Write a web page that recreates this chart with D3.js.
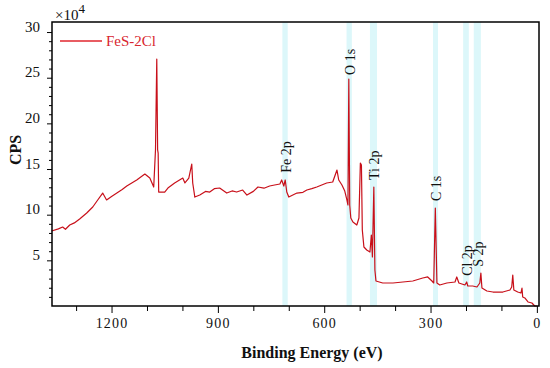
<!DOCTYPE html>
<html>
<head>
<meta charset="utf-8">
<script src="https://cdn.jsdelivr.net/npm/d3@7"></script>
<style>
  body { margin: 0; background: #fff; }
  text { font-family: "Liberation Serif", "DejaVu Serif", serif; }
</style>
</head>
<body>
<script>
// survey spectrum, binding energy (eV) vs CPS (x10^4)
var energy = [1369, 1350, 1338, 1330, 1318, 1305, 1290, 1270, 1253, 1239, 1225, 1214, 1200, 1185, 1170, 1157, 1129, 1106, 1092, 1081,
  1076, 1072.4, 1070, 1068.5, 1067, 1050, 1041, 1022, 999, 993, 982, 973.7, 971, 965, 951, 935, 923, 910, 895,
  875, 860, 847, 830, 818, 800, 787, 770, 754, 740, 725, 720, 714, 710, 705.6, 700, 677, 660, 649, 635, 621, 593, 576, 564, 559, 550,
  542, 536, 533, 530.6, 528, 525, 519, 508, 502, 498, 495, 492.5, 488, 480, 471, 467, 464, 460, 457,
  454, 435, 406, 378, 350, 322, 308, 296, 291, 286.5, 282, 274, 254, 231, 226, 220, 203, 198, 195,
  181, 169, 161, 158, 155, 141, 124, 96, 76, 71, 68, 65, 54, 45, 42, 40, 34, 25, 14, 6, 0];
var cps = [8.21, 8.45, 8.65, 8.40, 8.87, 9.10, 9.53, 10.18, 10.84, 11.61, 12.37, 11.61, 12.0, 12.37, 12.75, 13.14, 13.80, 14.45, 14.01, 13.03,
  17.1, 27.04, 17.1, 16.75, 12.48, 12.48, 12.92, 13.47, 14.01, 13.47, 14.01, 15.55, 13.47, 11.93, 12.15, 12.55, 12.48, 12.85, 12.92,
  12.37, 12.60, 12.48, 12.70, 12.15, 12.55, 13.03, 12.90, 13.14, 13.25, 13.36, 13.80, 13.14, 13.80, 12.48, 11.93, 12.37, 12.45, 12.70, 12.85, 13.03, 13.47, 13.58, 14.89, 13.80, 13.25,
  12.59, 11.61, 11.06, 24.85, 11.06, 9.64, 9.20, 8.87, 9.64, 15.66, 15.44, 8.32, 6.46, 6.13, 5.91, 7.77, 5.37, 13.03, 3.94,
  2.74, 2.52, 2.52, 2.63, 2.74, 3.07, 3.18, 2.74, 2.52, 10.73, 2.52, 2.30, 2.52, 2.63, 3.18, 2.52, 2.30, 2.63, 2.19,
  2.19, 2.08, 2.52, 3.61, 1.97, 1.64, 1.53, 1.53, 1.75, 2.08, 3.39, 1.75, 1.53, 1.42, 1.97, 0.99, 0.88, 0.44, 0.33, 0.0, 0.0];

// peak assignments and shaded energy windows
var peakNames = ["Fe 2p", "O 1s", "Ti 2p", "C 1s", "Cl 2p", "S 2p"];
var bandLo = [703, 522, 451, 279, 192, 158];
var bandHi = [718, 537, 471, 293, 208, 178];
var labelTop = [14.6, 25.3, 13.8, 11.5, 3.3, 4.3]; // cps level where the label starts

var xTicks = [1200, 900, 600, 300, 0];
var yTicks = [5, 10, 15, 20, 25, 30];
var seriesName = "FeS-2Cl";

var width = 550, height = 368;
var mLeft = 52, mRight = 539, mTop = 22, mBottom = 306;
var lineColor = "#c8101a";

var svg = d3.select("body").append("svg")
  .attr("width", width)
  .attr("height", height);

var x = d3.scaleLinear().domain([1368, -6]).range([mLeft, mRight]);
var y = d3.scaleLinear().domain([0, 31.1]).range([mBottom, mTop]);

// cyan bands behind the curve
var bands = svg.append("g");
for (var i = 0; i < peakNames.length; i++) {
  bands.append("rect")
    .attr("x", x(bandHi[i]))
    .attr("y", mTop)
    .attr("width", x(bandLo[i]) - x(bandHi[i]))
    .attr("height", mBottom - mTop)
    .attr("fill", "#dcf7fa");
}

// spectrum
var pts = energy.map(function(e, i) { return [e, cps[i]]; });
var line = d3.line()
  .x(function(d) { return x(d[0]); })
  .y(function(d) { return y(d[1]); });

svg.append("path")
  .datum(pts)
  .attr("d", line)
  .attr("fill", "none")
  .attr("stroke", lineColor)
  .attr("stroke-width", 1.2)
  .attr("stroke-linejoin", "round");

// frame
svg.append("rect")
  .attr("x", mLeft)
  .attr("y", mTop)
  .attr("width", mRight - mLeft)
  .attr("height", mBottom - mTop)
  .attr("fill", "none")
  .attr("stroke", "#000")
  .attr("stroke-width", 1.5);

// x axis: majors every 300, minors every 100
var xMinor = d3.range(1300, -1, -100).filter(function(v) { return xTicks.indexOf(v) < 0; });
var xAxis = svg.append("g").attr("transform", "translate(0," + mBottom + ")");
xAxis.call(d3.axisBottom(x).tickValues(xTicks).tickSize(7).tickPadding(5).tickFormat(d3.format("d")));
xAxis.append("g").call(d3.axisBottom(x).tickValues(xMinor).tickSize(5).tickFormat(""));
xAxis.selectAll(".domain").remove();
xAxis.selectAll("text")
  .attr("font-size", 14)
  .attr("letter-spacing", 1.2)
  .attr("font-family", "Liberation Serif, serif")
  .attr("fill", "#111");

// y axis: majors every 5, minors every 1
var yMinor = d3.range(1, 31).filter(function(v) { return v % 5 !== 0; });
var yAxis = svg.append("g").attr("transform", "translate(" + mLeft + ",0)");
yAxis.call(d3.axisLeft(y).tickValues(yTicks).tickSize(5).tickPadding(7));
yAxis.append("g").call(d3.axisLeft(y).tickValues(yMinor).tickSize(3).tickFormat(""));
yAxis.selectAll(".domain").remove();
yAxis.selectAll("text")
  .attr("font-size", 15)
  .attr("dy", "-0.05em")
  .attr("font-family", "Liberation Serif, serif")
  .attr("fill", "#111");

// peak labels, vertical
for (var i = 0; i < peakNames.length; i++) {
  var cx = x((bandLo[i] + bandHi[i]) / 2) + 1;
  svg.append("text")
    .attr("transform", "translate(" + cx + "," + y(labelTop[i]) + ") rotate(-90)")
    .attr("dy", "0.35em")
    .attr("font-size", 14)
    .attr("fill", "#111")
    .text(peakNames[i]);
}

// legend
svg.append("line")
  .attr("x1", 60).attr("x2", 102)
  .attr("y1", 41).attr("y2", 41)
  .attr("stroke", "#e0262e")
  .attr("stroke-width", 1.3);
svg.append("text")
  .attr("x", 106).attr("y", 46)
  .attr("font-size", 15)
  .attr("fill", "#d8262e")
  .text(seriesName);

// exponent
var ex = svg.append("text").attr("x", 55).attr("y", 20).attr("font-size", 15).attr("fill", "#111");
ex.append("tspan").text("\u00d710");
ex.append("tspan").attr("dy", -7).attr("font-size", 13).text("4");

// axis titles
svg.append("text")
  .attr("x", 312).attr("y", 358)
  .attr("text-anchor", "middle")
  .attr("font-size", 16)
  .attr("font-weight", "bold")
  .attr("fill", "#111")
  .text("Binding Energy (eV)");

svg.append("text")
  .attr("transform", "translate(21,150) rotate(-90)")
  .attr("text-anchor", "middle")
  .attr("font-size", 16)
  .attr("font-weight", "bold")
  .attr("fill", "#111")
  .text("CPS");
</script>
</body>
</html>
